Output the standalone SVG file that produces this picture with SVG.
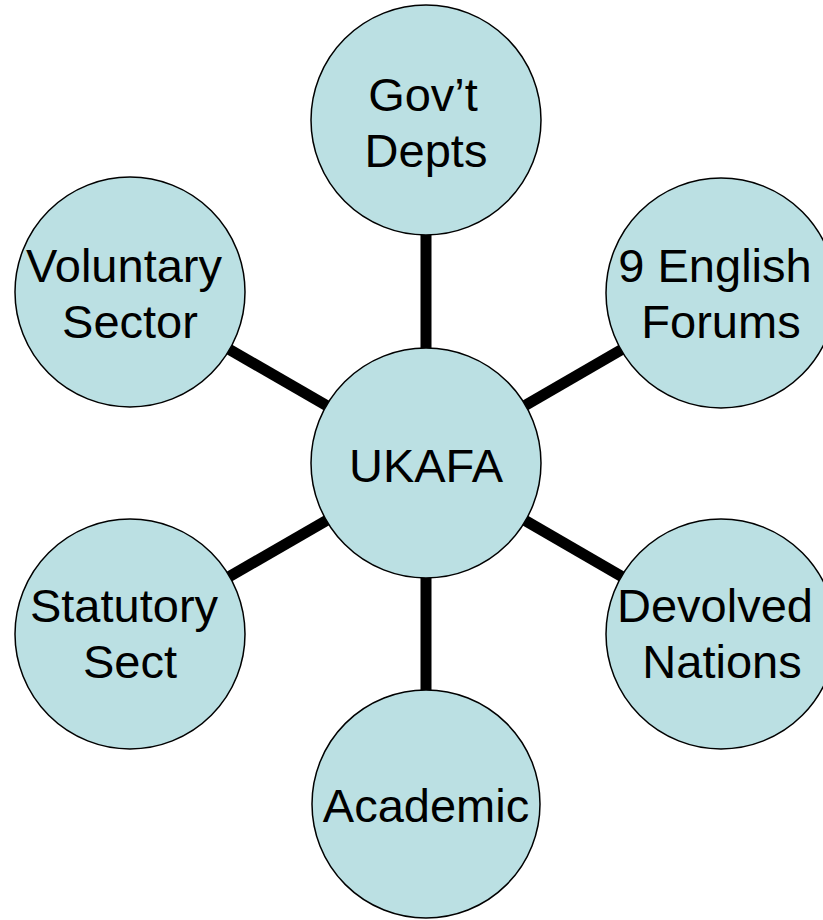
<svg xmlns="http://www.w3.org/2000/svg" width="823" height="920" viewBox="0 0 823 920">
<style>
.n{fill:#BBE0E3;stroke:#000;stroke-width:1.5}
.t{font-family:"Liberation Sans",Arial,sans-serif;font-size:47px;fill:#000;text-anchor:middle}
.c{stroke:#000;stroke-width:11;fill:none}
</style>
<rect width="823" height="920" fill="#fff"/>
<g id="connectors">
<line class="c" x1="426" y1="463" x2="426" y2="120"/>
<line class="c" x1="426" y1="463" x2="426" y2="804"/>
<line class="c" x1="426" y1="463" x2="130" y2="292"/>
<line class="c" x1="426" y1="463" x2="721" y2="292"/>
<line class="c" x1="426" y1="463" x2="130" y2="634"/>
<line class="c" x1="426" y1="463" x2="721" y2="634"/>
</g>
<g id="govt">
<circle class="n" cx="426" cy="120" r="115"/>
<text class="t" x="423" y="111">Gov’t</text>
<text class="t" x="426" y="167">Depts</text>
</g>
<g id="english">
<circle class="n" cx="721" cy="293" r="115"/>
<text class="t" x="715" y="282">9 English</text>
<text class="t" x="721" y="338">Forums</text>
</g>
<g id="voluntary">
<circle class="n" cx="130" cy="292" r="115"/>
<text class="t" x="124" y="282">Voluntary</text>
<text class="t" x="130" y="338">Sector</text>
</g>
<g id="ukafa">
<circle class="n" cx="426" cy="463" r="115"/>
<text class="t" x="426" y="482">UKAFA</text>
</g>
<g id="statutory">
<circle class="n" cx="130" cy="634" r="115"/>
<text class="t" x="124" y="622">Statutory</text>
<text class="t" x="130" y="678">Sect</text>
</g>
<g id="devolved">
<circle class="n" cx="721" cy="634" r="115"/>
<text class="t" x="715" y="622">Devolved</text>
<text class="t" x="722" y="678">Nations</text>
</g>
<g id="academic">
<circle class="n" cx="426" cy="804" r="114"/>
<text class="t" x="426" y="822">Academic</text>
</g>
</svg>
